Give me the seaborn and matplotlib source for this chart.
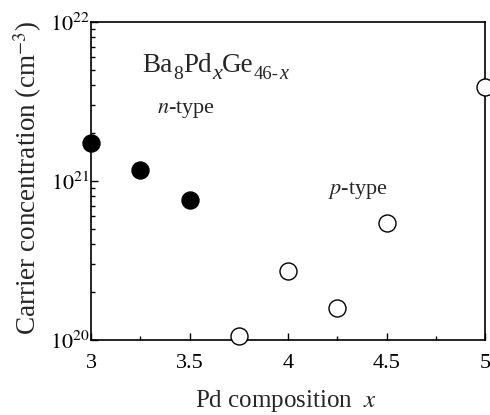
import matplotlib
matplotlib.use("Agg")
import matplotlib.pyplot as plt
import seaborn as sns
import pandas as pd
import numpy as np
from matplotlib.ticker import FixedLocator, LogLocator, NullFormatter

sns.set_style("ticks")
plt.rcParams['font.family'] = ['Liberation Serif', 'DejaVu Serif']
plt.rcParams['mathtext.fontset'] = 'stix'

n_x = [3.0, 3.25, 3.5]
n_conc = [1.73e21, 1.17e21, 7.6e20]
p_x = [3.75, 4.0, 4.25, 4.5, 5.0]
p_conc = [1.06e20, 2.7e20, 1.58e20, 5.4e20, 3.9e21]

x_ticks = [3, 3.5, 4, 4.5, 5]
x_ticklabels = ["3", "3.5", "4", "4.5", "5"]

df = pd.DataFrame({
    "x": n_x + p_x,
    "conc": n_conc + p_conc,
    "type": ["n"] * len(n_x) + ["p"] * len(p_x),
})

fig = plt.figure(figsize=(4.9, 4.15), dpi=100)
ax = fig.add_axes([0.186, 0.181, 0.804, 0.766])

sns.scatterplot(data=df[df.type == "n"], x="x", y="conc", ax=ax, s=150,
                color="black", edgecolor="black", linewidth=1, clip_on=False, zorder=5)
sns.scatterplot(data=df[df.type == "p"], x="x", y="conc", ax=ax, s=150,
                facecolor="white", edgecolor="black", linewidth=1, clip_on=False, zorder=5)

ax.set_yscale("log")
ax.set_xlim(3, 5)
ax.set_ylim(1e20, 1e22)
ax.set_xticks(x_ticks)
ax.set_xticklabels(x_ticklabels)
ax.xaxis.set_minor_locator(FixedLocator([3.25, 3.75, 4.25, 4.75]))
ax.yaxis.set_minor_locator(LogLocator(base=10, subs=np.arange(2, 10)))
ax.yaxis.set_minor_formatter(NullFormatter())
ax.set_yticks([1e20, 1e21, 1e22])
ax.set_yticklabels([r"$10^{20}$", r"$10^{21}$", r"$10^{22}$"])

ax.tick_params(axis="both", which="both", direction="in", top=False, right=False,
               labelsize=16, width=1, colors="black")
ax.tick_params(axis="both", which="major", length=5)
ax.tick_params(axis="both", which="minor", length=3)
ax.tick_params(axis="x", pad=10)
ax.tick_params(axis="y", pad=1)
for s in ax.spines.values():
    s.set_linewidth(1.2)
    s.set_color("black")

ax.set_xlabel(r"Pd composition  $\mathit{x}$", fontsize=18)
ax.xaxis.set_label_coords(0.495, -0.152)
ax.set_ylabel(r"Carrier concentration (cm$^{-3}$)", fontsize=19.5)
ax.yaxis.set_label_coords(-0.12, 0.51)

# Formula built from pieces so subscripts keep their large size
y_base = 0.843
pieces = [("Ba", 19.5, "normal", 0), ("8", 14, "normal", -5),
          ("Pd", 19.5, "normal", 0), ("x", 16, "italic", -5),
          ("Ge", 19.5, "normal", 0), ("46-", 13.5, "normal", -5), ("x", 14.5, "italic", -5)]
prev = None
for txt, fs, style, dy in pieces:
    if prev is None:
        prev = ax.annotate(txt, xy=(0.13, y_base), xycoords="axes fraction",
                           xytext=(0, dy), textcoords="offset points",
                           fontsize=fs, fontstyle=style, va="baseline", ha="left")
    else:
        prev = ax.annotate(txt, xy=(1, y_base), xycoords=(prev, "axes fraction"),
                           xytext=(0.2, dy), textcoords="offset points",
                           fontsize=fs, fontstyle=style, va="baseline", ha="left")

ax.text(0.168, 0.715, r"$\mathit{n}$-type", transform=ax.transAxes, fontsize=16)
ax.text(0.6, 0.46, r"$\mathit{p}$-type", transform=ax.transAxes, fontsize=16)

fig.savefig("out.png", dpi=100)
